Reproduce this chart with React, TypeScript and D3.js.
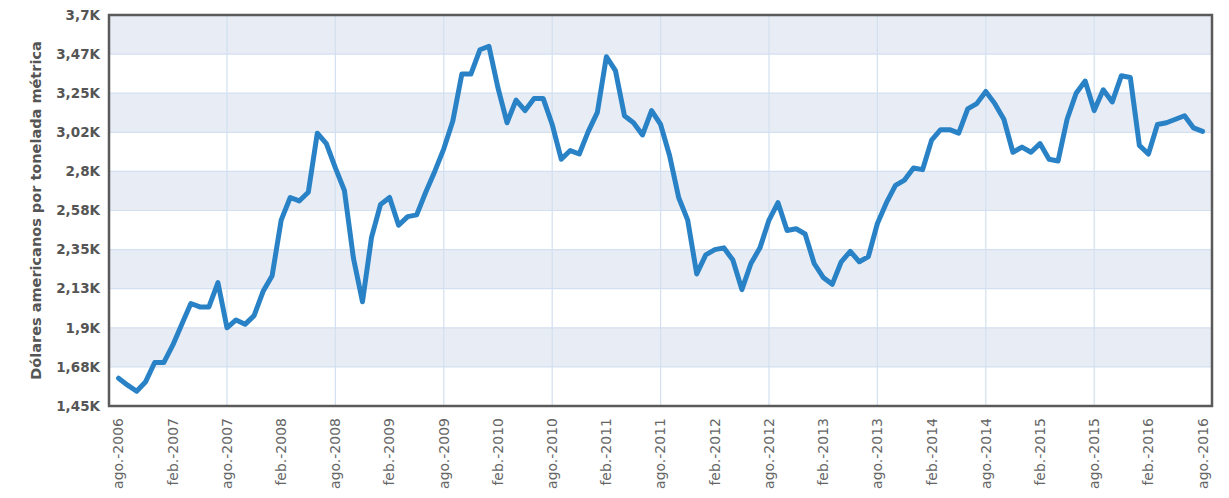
import React from "react";
import * as d3 from "d3";

// Monthly price, ago.-2006 .. ago.-2016 (USD per metric ton)
const prices: number[] = [
  1.61, 1.57, 1.535, 1.59, 1.70, 1.70, 1.80, 1.92, 2.04, 2.02,
  2.02, 2.16, 1.90, 1.945, 1.92, 1.97, 2.11, 2.20, 2.52, 2.65,
  2.63, 2.68, 3.02, 2.96, 2.82, 2.69, 2.30, 2.05, 2.42, 2.61,
  2.65, 2.49, 2.54, 2.55, 2.68, 2.80, 2.93, 3.09, 3.36, 3.36,
  3.50, 3.52, 3.28, 3.08, 3.21, 3.15, 3.22, 3.22, 3.07, 2.87,
  2.92, 2.90, 3.03, 3.14, 3.46, 3.38, 3.12, 3.08, 3.01, 3.15,
  3.07, 2.89, 2.65, 2.52, 2.21, 2.32, 2.35, 2.36, 2.29, 2.12,
  2.27, 2.36, 2.52, 2.62, 2.46, 2.47, 2.44, 2.27, 2.19, 2.15,
  2.28, 2.34, 2.28, 2.31, 2.50, 2.62, 2.72, 2.75, 2.82, 2.81,
  2.98, 3.04, 3.04, 3.02, 3.16, 3.19, 3.26, 3.19, 3.10, 2.91,
  2.94, 2.91, 2.96, 2.87, 2.86, 3.10, 3.25, 3.32, 3.15, 3.27,
  3.20, 3.35, 3.34, 2.95, 2.90, 3.07, 3.08, 3.10, 3.12, 3.05,
  3.03,
].map((v) => v * 1000);

const yTickValues: number[] = [1450, 1675, 1900, 2125, 2350, 2575, 2800, 3025, 3250, 3475, 3700];
const yTickLabels: string[] = ["1,45K", "1,68K", "1,9K", "2,13K", "2,35K", "2,58K", "2,8K", "3,02K", "3,25K", "3,47K", "3,7K"];

const xTickLabels: string[] = [
  "ago.-2006", "feb.-2007", "ago.-2007", "feb.-2008", "ago.-2008", "feb.-2009", "ago.-2009",
  "feb.-2010", "ago.-2010", "feb.-2011", "ago.-2011", "feb.-2012", "ago.-2012", "feb.-2013",
  "ago.-2013", "feb.-2014", "ago.-2014", "feb.-2015", "ago.-2015", "feb.-2016", "ago.-2016",
];
const xTickMonths: number[] = xTickLabels.map((_, i) => i * 6);
const xGridMonths: number[] = [12, 24, 36, 48, 60, 72, 84, 96, 108];

const yTitle = "Dólares americanos por tonelada métrica";

export default function App() {
  const W = 1229, H = 498;
  const left = 109, top = 15, right = 1212, bottom = 406;
  const x = d3.scaleLinear().domain([-1.06, 121.04]).range([left, right]);
  const y = d3.scaleLinear().domain([1450, 3700]).range([bottom, top]);
  const line = d3.line<number>().x((_, i) => x(i)).y((d) => y(d));

  const bands: [number, number][] = [];
  for (let i = 1; i < yTickValues.length; i += 2) bands.push([yTickValues[i], yTickValues[i + 1]]);

  return (
    <svg width={W} height={H} style={{ position: "absolute", left: 0, top: 0, background: "#fff" }}
      fontFamily="'DejaVu Sans', Verdana, sans-serif">
      <rect x={left} y={top} width={right - left} height={bottom - top} fill="#ffffff" />
      {bands.map(([a, b], i) => (
        <rect key={i} x={left} y={y(b)} width={right - left} height={y(a) - y(b)} fill="#e8edf5" />
      ))}
      {yTickValues.map((v, i) => (
        <line key={i} x1={left} x2={right} y1={y(v)} y2={y(v)} stroke="#d3e0f0" strokeWidth={1.2} />
      ))}
      {xGridMonths.map((m, i) => (
        <line key={i} x1={x(m)} x2={x(m)} y1={top} y2={bottom} stroke="#d3e0f0" strokeWidth={1.2} />
      ))}
      <path d={line(prices) ?? ""} fill="none" stroke="#2a82c6" strokeWidth={5}
        strokeLinejoin="round" strokeLinecap="round" />
      <rect x={left} y={top} width={right - left} height={bottom - top} fill="none" stroke="#5a5a5a" strokeWidth={2.5} />
      {yTickValues.map((v, i) => (
        <text key={i} x={100} y={y(v)} dy="0.35em" textAnchor="end" fontSize={13.5} fontWeight="bold" fill="#555">
          {yTickLabels[i]}
        </text>
      ))}
      {xTickMonths.map((m, i) => (
        <text key={i} transform={`translate(${x(m)},${418}) rotate(-90)`} dy="0.35em" textAnchor="end"
          fontSize={14} fill="#666">
          {xTickLabels[i]}
        </text>
      ))}
      <text transform={`translate(41,${(top + bottom) / 2}) rotate(-90)`} textAnchor="middle" fontSize={14.5}
        fontWeight="bold" fill="#555">
        {yTitle}
      </text>
    </svg>
  );
}
